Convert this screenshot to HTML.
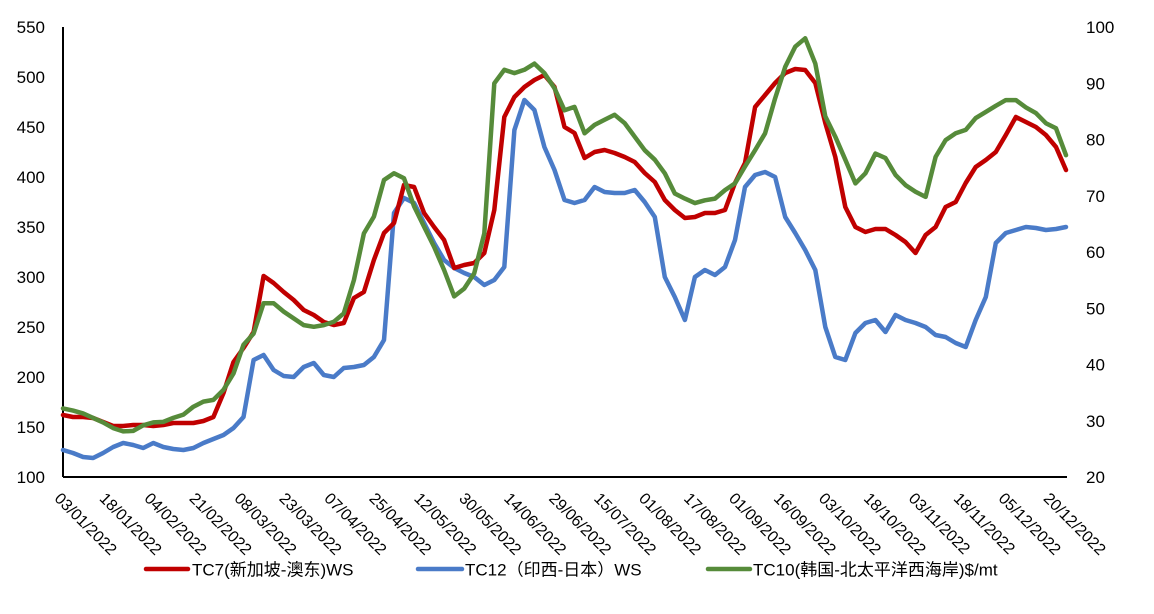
<!DOCTYPE html>
<html><head><meta charset="utf-8"><style>
html,body{margin:0;padding:0;background:#fff}
svg{display:block;font-family:"Liberation Sans","Noto Sans CJK SC",sans-serif}
</style></head><body>
<svg id="chart" width="1154" height="614" viewBox="0 0 1154 614" xmlns="http://www.w3.org/2000/svg">
<g id="axes"></g>
<g id="series"></g>
<g id="legend"></g>
</svg>
<script>
const dateLabels=["03/01/2022","18/01/2022","04/02/2022","21/02/2022","08/03/2022","23/03/2022","07/04/2022","25/04/2022","12/05/2022","30/05/2022","14/06/2022","29/06/2022","15/07/2022","01/08/2022","17/08/2022","01/09/2022","16/09/2022","03/10/2022","18/10/2022","03/11/2022","18/11/2022","05/12/2022","20/12/2022"];
const leftTicks=[100,150,200,250,300,350,400,450,500,550];
const rightTicks=[20,30,40,50,60,70,80,90,100];
const tc7=[162,160,160,159,155,151,151,152,152,151,152,154,154,154,156,160,184,215,229,245,301,294,285,277,267,262,255,252,254,279,285,317,344,354,392,390,364,350,337,309,312,314,324,367,460,480,490,497,502,490,450,
444,419,425,427,424,420,415,404,395,377,367,359,360,364,364,367,394,414,470,482,494,504,508,507,494,454,420,370,350,345,348,348,342,335,324,342,350,370,375,394,410,417,425,442,460,455,450,442,430,407];
const tc12=[127,124,120,119,124,130,134,132,129,134,130,128,127,129,134,138,142,149,160,217,222,207,201,200,210,214,202,200,209,210,212,220,237,364,379,374,354,334,317,309,304,300,292,297,310,447,477,467,430,407,377,
374,377,390,385,384,384,387,375,360,300,280,257,300,307,302,310,337,390,402,405,400,360,344,327,307,250,220,217,244,254,257,245,262,257,254,250,242,240,234,230,257,280,334,344,347,350,349,347,348,350];
const tc10=[32.2,31.8,31.3,30.5,29.7,28.7,28.1,28.2,29.2,29.7,29.8,30.5,31.1,32.5,33.4,33.7,35.5,38.4,43.5,45.5,50.9,50.9,49.4,48.2,47,46.7,47,47.6,49.1,55,63.3,66.3,72.8,74,73.1,68.1,64.5,60.9,56.8,52.1,53.5,56.2,63.3,90,92.4,91.8,92.4,93.5,91.8,89.1,85.2,
85.8,81.1,82.6,83.5,84.4,82.9,80.5,78.1,76.4,74,70.4,69.5,68.7,69.2,69.5,71,72.2,75.2,78.1,81.1,87.3,92.9,96.5,98,93.5,84.1,80.5,76.4,72.2,74,77.5,76.7,73.7,71.9,70.7,69.8,76.9,79.9,81.1,81.7,83.8,84.9,86,87,87,85.7,84.7,82.9,82,77.2];

const X0=63,X1=1066,Y0=477,Y1=27;
const NS="http://www.w3.org/2000/svg";
function xIdx(i,n){return X0+(X1-X0)*i/(n-1);}
function yL(v){return Y0-(v-100)/(550-100)*(Y0-Y1);}
function yR(v){return Y0-(v-20)/(100-20)*(Y0-Y1);}
function mk(tag,attrs,parent){const e=document.createElementNS(NS,tag);for(const k in attrs)e.setAttribute(k,attrs[k]);parent.appendChild(e);return e;}
const axes=document.getElementById('axes');
const ser=document.getElementById('series');
const leg=document.getElementById('legend');

const la=mk('line',{x1:X0,y1:Y1,x2:X0,y2:Y0,stroke:'#000','stroke-width':2},axes);


const ba=mk('line',{x1:X0,y1:Y0,x2:1067,y2:Y0,stroke:'#000','stroke-width':2},axes);



leftTicks.forEach(v=>{
  const t=mk('text',{x:45,y:yL(v)+6,'text-anchor':'end','font-size':17,fill:'#000'},axes);
  t.textContent=v;
  
  
});
rightTicks.forEach(v=>{
  const t=mk('text',{x:1086,y:yR(v)+6,'text-anchor':'start','font-size':17,fill:'#000'},axes);
  t.textContent=v;
  
  
});
dateLabels.forEach((d,i)=>{
  const x=61+(1050-61)*i/(dateLabels.length-1), y=492;
  const t=mk('text',{x:x,y:y,'font-size':16,fill:'#000',transform:`rotate(45 ${x} ${y})`,'dominant-baseline':'hanging'},axes);
  t.textContent=d;
  
  
});

function drawLine(arr,yf,color,name){
  const pts=arr.map((v,i)=>xIdx(i,arr.length).toFixed(1)+','+yf(v).toFixed(1)).join(' ');
  const p=mk('polyline',{points:pts,fill:'none',stroke:color,'stroke-width':4.5,'stroke-linejoin':'round','stroke-linecap':'round'},ser);
  
  
}
drawLine(tc12,yL,'#4a7bc8','tc12-line');
drawLine(tc7,yL,'#c00000','tc7-line');
drawLine(tc10,yR,'#568b3a','tc10-line');

const items=[[146,188,192,'#c00000','TC7(新加坡-澳东)WS','legend-tc7'],[418,462,465,'#4a7bc8','TC12（印西-日本）WS','legend-tc12'],[708,750,753,'#568b3a','TC10(韩国-北太平洋西海岸)$/mt','legend-tc10']];
items.forEach(it=>{
  const g=mk('g',{},leg);
  
  
  mk('line',{x1:it[0],y1:569,x2:it[1],y2:569,stroke:it[3],'stroke-width':4.5,'stroke-linecap':'round'},g);
  const t=mk('text',{x:it[2],y:575.5,'font-size':17,fill:'#000'},g);
  t.textContent=it[4];
});
</script>
</body></html>
